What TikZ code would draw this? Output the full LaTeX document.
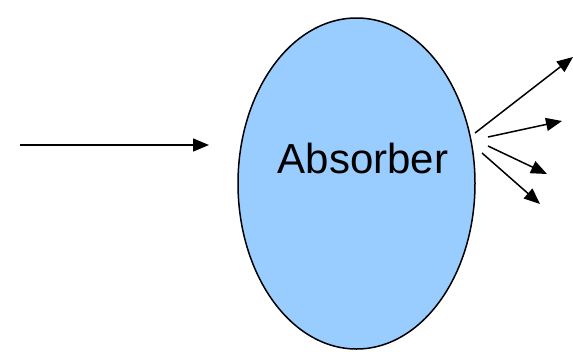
\documentclass[tikz,border=0pt]{standalone}
\usepackage{fontspec}
\setmainfont{Liberation Sans}
\usetikzlibrary{arrows.meta,shapes.geometric}
\definecolor{absblue}{RGB}{153,204,255}
\tikzset{
  ray/.style={line width=1.5pt,-{Triangle[length=16pt,width=13pt]}},
  absorber/.style={ellipse,draw=black,line width=1.5pt,fill=absblue,minimum width=237pt,minimum height=331pt,inner sep=0pt}
}
\begin{document}
\begin{tikzpicture}[x=1pt,y=-1pt]
\useasboundingbox (0,0) rectangle (573,351);
\node[absorber] (abs) at (356.5,183.5) {};
\node[font=\fontsize{42}{46}\selectfont] (lbl) at (363,158) {Absorber};
\coordinate (in0) at (20,145);
\coordinate (in1) at (209,145);
\draw[ray] (in0) -- (in1);
\coordinate (s1) at (475,133);
\coordinate (e1) at (573,57);
\coordinate (s2) at (488,137);
\coordinate (e2) at (562,121);
\coordinate (s3) at (488,146);
\coordinate (e3) at (547,174);
\coordinate (s4) at (482,153);
\coordinate (e4) at (540,204);
\draw[ray] (s1) -- (e1);
\draw[ray] (s2) -- (e2);
\draw[ray] (s3) -- (e3);
\draw[ray] (s4) -- (e4);
\end{tikzpicture}
\end{document}
